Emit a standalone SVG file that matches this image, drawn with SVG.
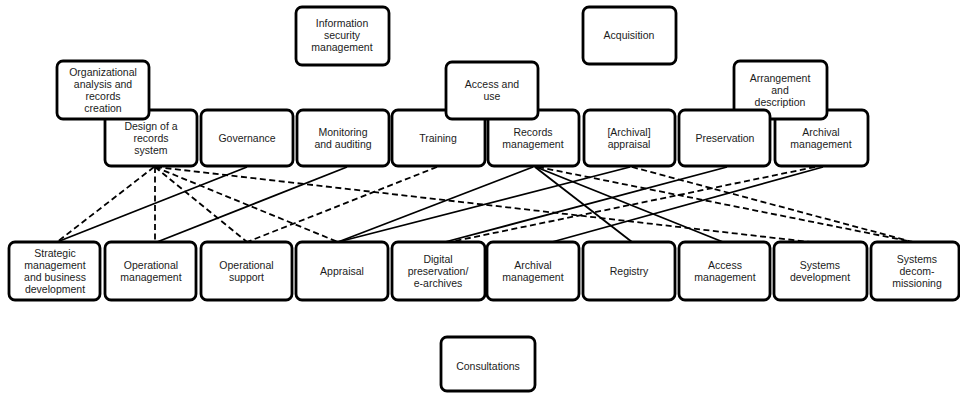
<svg xmlns="http://www.w3.org/2000/svg" width="960" height="393" viewBox="0 0 960 393">
<style>
.box{fill:#fff;stroke:#000;stroke-width:2.8}
.t{font-family:"Liberation Sans",Arial,sans-serif;font-size:10.5px;fill:#1b1b1b;text-anchor:middle}
.s{stroke:#000;stroke-width:1.8;fill:none}
.d{stroke:#000;stroke-width:1.8;fill:none;stroke-dasharray:6 3.5}
</style>
<rect width="960" height="393" fill="#fff"/>
<g id="connectors">
<line class="d" x1="154" y1="167" x2="57" y2="242"/>
<line class="d" x1="155" y1="167" x2="155" y2="242"/>
<line class="d" x1="155" y1="167" x2="247" y2="242"/>
<line class="d" x1="155" y1="167" x2="338" y2="242"/>
<line class="d" x1="156" y1="167" x2="810" y2="242"/>
<line class="s" x1="247" y1="167" x2="57" y2="242"/>
<line class="s" x1="347" y1="167" x2="157" y2="242"/>
<line class="d" x1="437" y1="167" x2="247" y2="242"/>
<line class="s" x1="533" y1="167" x2="338" y2="242"/>
<line class="s" x1="630" y1="167" x2="338" y2="242"/>
<line class="s" x1="535" y1="167" x2="632" y2="242"/>
<line class="s" x1="536" y1="167" x2="723" y2="242"/>
<line class="d" x1="538" y1="167" x2="913" y2="242"/>
<line class="d" x1="632" y1="167" x2="913" y2="242"/>
<line class="s" x1="727" y1="167" x2="445" y2="242"/>
<line class="d" x1="815" y1="167" x2="450" y2="242"/>
<line class="s" x1="823" y1="167" x2="552" y2="242"/>
</g>
<g id="n-design"><rect class="box" x="105" y="110" width="92" height="56" rx="6"/><text class="t"><tspan x="151" y="129.8">Design of a</tspan><tspan x="151" y="141.8">records</tspan><tspan x="151" y="153.8">system</tspan></text></g>
<g id="n-org"><rect class="box" x="57" y="61" width="92" height="58" rx="6"/><text class="t"><tspan x="103" y="75.8">Organizational</tspan><tspan x="103" y="87.8">analysis and</tspan><tspan x="103" y="99.8">records</tspan><tspan x="103" y="111.8">creation</tspan></text></g>
<g id="n-governance"><rect class="box" x="201" y="110" width="92" height="56" rx="6"/><text class="t" x="247" y="141.8">Governance</text></g>
<g id="n-monitoring"><rect class="box" x="297" y="110" width="92" height="56" rx="6"/><text class="t"><tspan x="343" y="135.8">Monitoring</tspan><tspan x="343" y="147.8">and auditing</tspan></text></g>
<g id="n-training"><rect class="box" x="392" y="110" width="93" height="56" rx="6"/><text class="t" x="438" y="141.8">Training</text></g>
<g id="n-records"><rect class="box" x="488" y="110" width="91" height="56" rx="6"/><text class="t"><tspan x="533" y="135.8">Records</tspan><tspan x="533" y="147.8">management</tspan></text></g>
<g id="n-access-use"><rect class="box" x="446" y="62" width="92" height="57" rx="6"/><text class="t"><tspan x="492" y="87.8">Access and</tspan><tspan x="492" y="99.8">use</tspan></text></g>
<g id="n-infosec"><rect class="box" x="296" y="7" width="93" height="58" rx="6"/><text class="t"><tspan x="342" y="26.8">Information</tspan><tspan x="342" y="38.8">security</tspan><tspan x="342" y="50.8">management</tspan></text></g>
<g id="n-acquisition"><rect class="box" x="583" y="7" width="93" height="57" rx="6"/><text class="t" x="629" y="39.3">Acquisition</text></g>
<g id="n-arch-appraisal"><rect class="box" x="584" y="110" width="91" height="56" rx="6"/><text class="t"><tspan x="629" y="135.8">[Archival]</tspan><tspan x="629" y="147.8">appraisal</tspan></text></g>
<g id="n-arch-mgmt-top"><rect class="box" x="775" y="110" width="93" height="56" rx="6"/><text class="t"><tspan x="821" y="135.8">Archival</tspan><tspan x="821" y="147.8">management</tspan></text></g>
<g id="n-arrangement"><rect class="box" x="734" y="61" width="93" height="58" rx="6"/><text class="t"><tspan x="780" y="81.8">Arrangement</tspan><tspan x="780" y="93.8">and</tspan><tspan x="780" y="105.8">description</tspan></text></g>
<g id="n-preservation"><rect class="box" x="679" y="110" width="91" height="56" rx="6"/><text class="t" x="725" y="141.8">Preservation</text></g>
<g id="n-strategic"><rect class="box" x="9" y="242" width="91" height="58" rx="6"/><text class="t"><tspan x="55" y="256.8">Strategic</tspan><tspan x="55" y="268.8">management</tspan><tspan x="55" y="280.8">and business</tspan><tspan x="55" y="292.8">development</tspan></text></g>
<g id="n-op-mgmt"><rect class="box" x="105" y="242" width="91" height="58" rx="6"/><text class="t"><tspan x="151" y="268.8">Operational</tspan><tspan x="151" y="280.8">management</tspan></text></g>
<g id="n-op-support"><rect class="box" x="201" y="242" width="91" height="58" rx="6"/><text class="t"><tspan x="246.5" y="268.8">Operational</tspan><tspan x="246.5" y="280.8">support</tspan></text></g>
<g id="n-appraisal"><rect class="box" x="296" y="242" width="92" height="58" rx="6"/><text class="t" x="342" y="274.8">Appraisal</text></g>
<g id="n-digital"><rect class="box" x="392" y="242" width="93" height="58" rx="6"/><text class="t"><tspan x="438" y="262.8">Digital</tspan><tspan x="438" y="274.8">preservation/</tspan><tspan x="438" y="286.8">e-archives</tspan></text></g>
<g id="n-arch-mgmt-bottom"><rect class="box" x="487" y="242" width="92" height="58" rx="6"/><text class="t"><tspan x="533" y="268.8">Archival</tspan><tspan x="533" y="280.8">management</tspan></text></g>
<g id="n-registry"><rect class="box" x="583" y="242" width="92" height="58" rx="6"/><text class="t" x="629" y="274.8">Registry</text></g>
<g id="n-access-mgmt"><rect class="box" x="679" y="242" width="91" height="58" rx="6"/><text class="t"><tspan x="725" y="268.8">Access</tspan><tspan x="725" y="280.8">management</tspan></text></g>
<g id="n-sys-dev"><rect class="box" x="774" y="242" width="93" height="58" rx="6"/><text class="t"><tspan x="820" y="268.8">Systems</tspan><tspan x="820" y="280.8">development</tspan></text></g>
<g id="n-sys-decom"><rect class="box" x="871" y="242" width="88" height="58" rx="6"/><text class="t"><tspan x="917" y="262.8">Systems</tspan><tspan x="917" y="274.8">decom-</tspan><tspan x="917" y="286.8">missioning</tspan></text></g>
<g id="n-consultations"><rect class="box" x="441" y="337" width="94" height="54" rx="6"/><text class="t" x="488" y="369.5">Consultations</text></g>
</svg>
